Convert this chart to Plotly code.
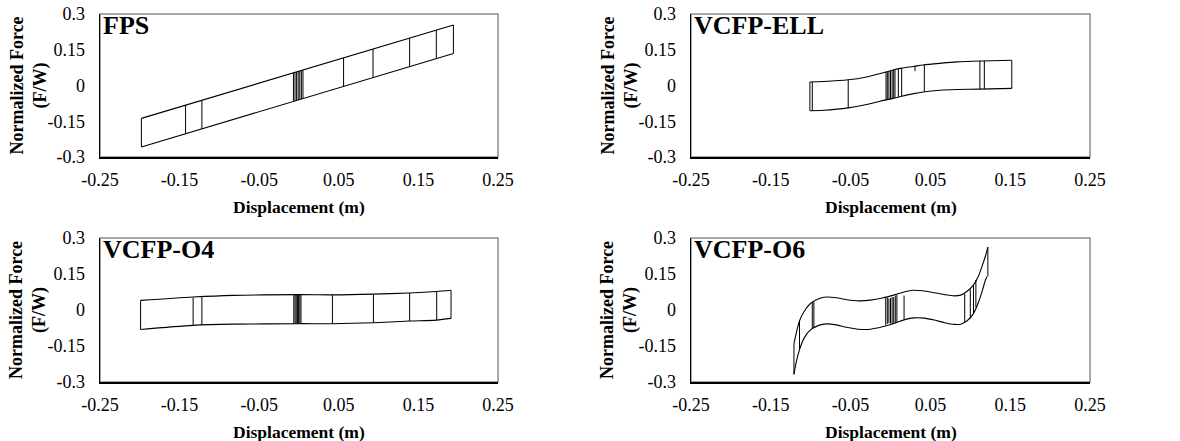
import plotly.graph_objects as go

W, H = 1180, 441

# ---------------- data ----------------
x_ticks = [-0.25, -0.15, -0.05, 0.05, 0.15, 0.25]
x_tick_labels = ["-0.25", "-0.15", "-0.05", "0.05", "0.15", "0.25"]
y_ticks = [-0.3, -0.15, 0, 0.15, 0.3]
y_tick_labels = ["-0.3", "-0.15", "0", "0.15", "0.3"]
panel_names = ["FPS", "VCFP-ELL", "VCFP-O4", "VCFP-O6"]

# FPS
fps_up_x = [-0.198, 0.194]
fps_up_y = [-0.138, 0.254]
fps_lo_x = [-0.198, 0.194]
fps_lo_y = [-0.258, 0.134]
fps_rev_x = [-0.198, -0.1425, -0.122, -0.007, -0.005, -0.003, -0.001, 0.001, 0.003, 0.005,
             0.056, 0.093, 0.139, 0.1725, 0.194]
fps_rev_top = [-0.138, -0.082, -0.062, 0.053, 0.055, 0.057, 0.059, 0.061, 0.063, 0.065,
               0.116, 0.153, 0.199, 0.2325, 0.254]
fps_rev_bot = [-0.258, -0.202, -0.182, -0.067, -0.065, -0.063, -0.061, -0.059, -0.057, -0.055,
               -0.004, 0.033, 0.079, 0.1125, 0.134]

# VCFP-ELL
ell_up_x = [-0.101, -0.084, -0.053, -0.030, -0.013, 0.002, 0.014, 0.029, 0.041, 0.062, 0.083, 0.112, 0.152]
ell_up_y = [0.015, 0.017, 0.024, 0.036, 0.050, 0.064, 0.073, 0.080, 0.086, 0.093, 0.099, 0.103, 0.106]
ell_lo_x = [-0.101, -0.084, -0.053, -0.030, -0.013, 0.002, 0.014, 0.029, 0.041, 0.062, 0.083, 0.112, 0.152]
ell_lo_y = [-0.106, -0.104, -0.094, -0.080, -0.066, -0.055, -0.045, -0.034, -0.027, -0.020, -0.017, -0.015, -0.012]
ell_rev_x = [-0.101, -0.098, -0.053, -0.0056, -0.004, -0.002, 0.0, 0.002, 0.004, 0.0056, 0.0098, 0.014,
             0.0307, 0.0424, 0.112, 0.1176, 0.152]
ell_rev_top = [0.015, 0.015, 0.024, 0.057, 0.058, 0.060, 0.062, 0.064, 0.065, 0.067, 0.070, 0.073,
               0.081, 0.087, 0.103, 0.104, 0.106]
ell_rev_bot = [-0.106, -0.106, -0.094, -0.061, -0.060, -0.058, -0.057, -0.055, -0.054, -0.052, -0.048, -0.045,
               0.060, -0.026, -0.015, -0.014, -0.012]

# VCFP-O4
o4_up_x = [-0.199, -0.133, -0.083, 0.0, 0.042, 0.093, 0.139, 0.1725, 0.191]
o4_up_y = [0.040, 0.054, 0.061, 0.064, 0.063, 0.066, 0.071, 0.077, 0.082]
o4_lo_x = [-0.199, -0.133, -0.083, 0.0, 0.042, 0.093, 0.139, 0.1725, 0.191]
o4_lo_y = [-0.081, -0.064, -0.059, -0.057, -0.057, -0.053, -0.046, -0.042, -0.035]
o4_rev_x = [-0.199, -0.133, -0.122, -0.0065, -0.005, -0.0035, -0.002, -0.0005, 0.001, 0.0025,
            0.042, 0.0935, 0.139, 0.173, 0.191]
o4_rev_top = [0.040, 0.052, 0.056, 0.062, 0.063, 0.063, 0.063, 0.063, 0.063, 0.062,
              0.062, 0.066, 0.071, 0.076, 0.082]
o4_rev_bot = [-0.081, -0.064, -0.063, -0.057, -0.057, -0.057, -0.057, -0.057, -0.057, -0.057,
              -0.057, -0.053, -0.046, -0.042, -0.035]

# VCFP-O6
o6_up_x = [-0.121, -0.118, -0.114, -0.108, -0.100, -0.090, -0.080, -0.068, -0.055, -0.040, -0.025,
           -0.010, 0.005, 0.018, 0.028, 0.040, 0.055, 0.068, 0.080, 0.088, 0.096, 0.104, 0.110,
           0.115, 0.119, 0.122]
o6_up_y = [-0.140, -0.095, -0.045, -0.005, 0.028, 0.047, 0.054, 0.051, 0.043, 0.038, 0.041,
           0.050, 0.063, 0.076, 0.082, 0.080, 0.072, 0.064, 0.059, 0.062, 0.078, 0.105, 0.140,
           0.185, 0.225, 0.262]
o6_lo_x = [-0.121, -0.118, -0.114, -0.108, -0.100, -0.090, -0.080, -0.068, -0.055, -0.040, -0.025,
           -0.010, 0.005, 0.018, 0.030, 0.042, 0.055, 0.068, 0.080, 0.088, 0.096, 0.104, 0.110,
           0.115, 0.119, 0.121]
o6_lo_y = [-0.268, -0.215, -0.165, -0.115, -0.082, -0.064, -0.058, -0.062, -0.072, -0.080, -0.080,
           -0.070, -0.055, -0.040, -0.033, -0.034, -0.042, -0.053, -0.060, -0.059, -0.045, -0.015, 0.030,
           0.080, 0.125, 0.140]
o6_rev_x = [-0.121, -0.114, -0.098, -0.096, -0.006, -0.004, -0.002, 0.0, 0.002, 0.004, 0.006, 0.008,
            0.017, 0.093, 0.100, 0.104, 0.107, 0.122]
o6_rev_top = [-0.140, -0.045, 0.032, 0.036, 0.054, 0.052, 0.048, 0.050, 0.055, 0.053, 0.060, 0.064,
              0.060, 0.068, 0.086, 0.105, 0.125, 0.262]
o6_rev_bot = [-0.268, -0.165, -0.078, -0.075, -0.064, -0.058, -0.055, -0.056, -0.060, -0.057, -0.055, -0.051,
              -0.040, -0.052, -0.036, -0.015, 0.010, 0.140]

panels = [
    (fps_up_x, fps_up_y, fps_lo_x, fps_lo_y, fps_rev_x, fps_rev_top, fps_rev_bot, "linear"),
    (ell_up_x, ell_up_y, ell_lo_x, ell_lo_y, ell_rev_x, ell_rev_top, ell_rev_bot, "spline"),
    (o4_up_x, o4_up_y, o4_lo_x, o4_lo_y, o4_rev_x, o4_rev_top, o4_rev_bot, "spline"),
    (o6_up_x, o6_up_y, o6_lo_x, o6_lo_y, o6_rev_x, o6_rev_top, o6_rev_bot, "spline"),
]

# ---------------- layout geometry (pixels) ----------------
col_px = [(100, 498), (691, 1090)]
row_px = [(14, 157), (238, 382)]

FONT = "Liberation Serif, Times New Roman, serif"

fig = go.Figure()
layout = dict(width=W, height=H, margin=dict(l=0, r=0, t=0, b=0, pad=0),
              paper_bgcolor="white", plot_bgcolor="white", showlegend=False,
              font=dict(family=FONT, color="black", size=18))
annotations = []
shapes = []

for i, (ux, uy, lx, ly, rx, rt, rb, shape) in enumerate(panels):
    r, c = divmod(i, 2)
    n = i + 1
    xa = "x" if n == 1 else f"x{n}"
    ya = "y" if n == 1 else f"y{n}"
    x0, x1 = col_px[c]
    y0, y1 = row_px[r]
    xdom = [x0 / W, x1 / W]
    ydom = [1 - y1 / H, 1 - y0 / H]

    seg_x, seg_y = [], []
    for xv, tv, bv in zip(rx, rt, rb):
        seg_x += [xv, xv, None]
        seg_y += [tv, bv, None]

    line = dict(color="black", width=1.1, shape=shape)
    if shape == "spline":
        line["smoothing"] = 0.8
    fig.add_trace(go.Scatter(x=ux, y=uy, mode="lines", line=line, xaxis=xa, yaxis=ya, hoverinfo="skip"))
    fig.add_trace(go.Scatter(x=lx, y=ly, mode="lines", line=line, xaxis=xa, yaxis=ya, hoverinfo="skip"))
    fig.add_trace(go.Scatter(x=seg_x, y=seg_y, mode="lines", line=dict(color="black", width=1),
                             xaxis=xa, yaxis=ya, hoverinfo="skip"))

    axkey_x = "xaxis" if n == 1 else f"xaxis{n}"
    axkey_y = "yaxis" if n == 1 else f"yaxis{n}"
    layout[axkey_x] = dict(domain=xdom, anchor=ya, range=[-0.25, 0.25], tickmode="array",
                           tickvals=x_ticks, ticktext=x_tick_labels, showgrid=False, zeroline=False,
                           showline=True, linecolor="black", linewidth=1.5, ticks="outside",
                           ticklen=6, tickcolor="rgba(0,0,0,0)", automargin=False,
                           tickfont=dict(size=18, family=FONT))
    layout[axkey_y] = dict(domain=ydom, anchor=xa, range=[-0.3, 0.3], tickmode="array",
                           tickvals=y_ticks, ticktext=y_tick_labels, showgrid=False, zeroline=False,
                           showline=True, linecolor="black", linewidth=1.5, ticks="outside",
                           ticklen=10, tickcolor="rgba(0,0,0,0)", automargin=False,
                           tickfont=dict(size=18, family=FONT))

    shapes.append(dict(type="rect", xref=f"{xa} domain", yref=f"{ya} domain", x0=0, x1=1, y0=0, y1=1,
                       line=dict(color="#8c8c8c", width=1.5), layer="below"))

    annotations.append(dict(text=f"<b>{panel_names[i]}</b>", xref="paper", yref="paper",
                            x=xdom[0] + 1 / W, y=ydom[1], xanchor="left", yanchor="top", yshift=5,
                            showarrow=False, font=dict(size=26, family=FONT, color="black")))
    annotations.append(dict(text="<b>Displacement (m)</b>", xref="paper", yref="paper",
                            x=(xdom[0] + xdom[1]) / 2, y=1 - (y1 + 50) / H, xanchor="center",
                            yanchor="middle", showarrow=False, font=dict(size=17.5, family=FONT)))
    annotations.append(dict(text="<b>Normalized Force<br>(F/W)</b>", xref="paper", yref="paper",
                            x=(x0 - 72) / W, y=(ydom[0] + ydom[1]) / 2, xanchor="center",
                            yanchor="middle", textangle=-90, showarrow=False,
                            font=dict(size=18, family=FONT)))

layout["annotations"] = annotations
layout["shapes"] = shapes
fig.update_layout(**layout)
fig.write_html("out.html", config={"displayModeBar": False, "staticPlot": True},
               post_script="document.body.style.margin='0';document.body.style.padding='0';")
